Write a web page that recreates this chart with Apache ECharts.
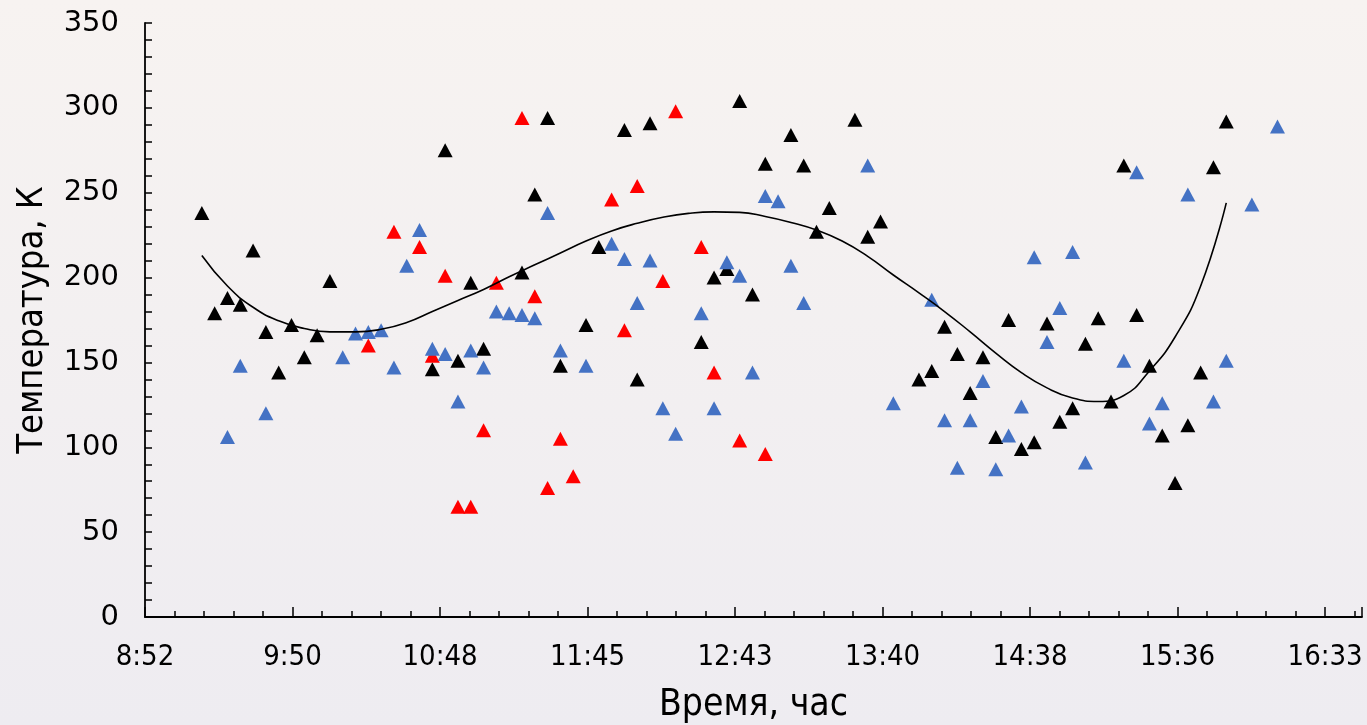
<!DOCTYPE html>
<html>
<head>
<meta charset="utf-8">
<script src="https://cdn.jsdelivr.net/npm/echarts@6/dist/echarts.min.js"></script>
<style>
  html, body { margin: 0; padding: 0; }
  body { background: linear-gradient(180deg, #f7f3f1 0%, #eeecf1 100%); }
  #chart { width: 1367px; height: 725px; }
</style>
</head>
<body>
<div id="chart"></div>
<script>
// time of day 'H:MM', temperature K
const blackPoints = [
  ['9:15', 238], ['9:20', 179], ['9:25', 188], ['9:30', 184], ['9:35', 216], ['9:40', 168],
  ['9:45', 144], ['9:50', 172], ['9:55', 153], ['10:00', 166], ['10:05', 198], ['10:45', 146],
  ['10:50', 275], ['10:55', 151], ['11:00', 197], ['11:05', 158], ['11:20', 203], ['11:25', 249],
  ['11:30', 294], ['11:35', 148], ['11:45', 172], ['11:50', 218], ['12:00', 287], ['12:05', 140],
  ['12:10', 291], ['12:30', 162], ['12:35', 200], ['12:40', 205], ['12:45', 304], ['12:50', 190],
  ['12:55', 267], ['13:05', 284], ['13:10', 266], ['13:15', 227], ['13:20', 241], ['13:30', 293],
  ['13:35', 224], ['13:40', 233], ['13:55', 140], ['14:00', 145], ['14:05', 171], ['14:10', 155],
  ['14:15', 132], ['14:20', 153], ['14:25', 106], ['14:30', 175], ['14:35', 99], ['14:40', 103],
  ['14:45', 173], ['14:50', 115], ['14:55', 123], ['15:00', 161], ['15:05', 176], ['15:10', 127],
  ['15:15', 266], ['15:20', 178], ['15:25', 148], ['15:30', 107], ['15:35', 79], ['15:40', 113],
  ['15:45', 144], ['15:50', 265], ['15:55', 292]
]

const bluePoints = [
  ['9:25', 106], ['9:30', 148], ['9:40', 120], ['10:10', 153], ['10:15', 167], ['10:20', 168],
  ['10:25', 169], ['10:30', 147], ['10:35', 207], ['10:40', 228], ['10:45', 158], ['10:50', 155],
  ['10:55', 127], ['11:00', 157], ['11:05', 147], ['11:10', 180], ['11:15', 179], ['11:20', 178],
  ['11:25', 176], ['11:30', 238], ['11:35', 157], ['11:45', 148], ['11:55', 220], ['12:00', 211],
  ['12:05', 185], ['12:10', 210], ['12:15', 123], ['12:20', 108], ['12:30', 179], ['12:35', 123],
  ['12:40', 209], ['12:45', 201], ['12:50', 144], ['12:55', 248], ['13:00', 245], ['13:05', 207],
  ['13:10', 185], ['13:35', 266], ['13:45', 126], ['14:00', 187], ['14:05', 116], ['14:10', 88],
  ['14:15', 116], ['14:20', 139], ['14:25', 87], ['14:30', 107], ['14:35', 124], ['14:40', 212],
  ['14:45', 162], ['14:50', 182], ['14:55', 215], ['15:00', 91], ['15:15', 151], ['15:20', 262],
  ['15:25', 114], ['15:30', 126], ['15:40', 249], ['15:50', 127], ['15:55', 151], ['16:05', 243],
  ['16:15', 289]
]

const redPoints = [
  ['10:20', 160], ['10:30', 227], ['10:40', 218], ['10:45', 154], ['10:50', 201], ['10:55', 65],
  ['11:00', 65], ['11:05', 110], ['11:10', 197], ['11:20', 294], ['11:25', 189], ['11:30', 76],
  ['11:35', 105], ['11:40', 83], ['11:55', 246], ['12:00', 169], ['12:05', 254], ['12:15', 198],
  ['12:20', 298], ['12:30', 218], ['12:35', 144], ['12:45', 104], ['12:55', 96]
]

// trend curve
const trendTimes = ['9:15', '9:25', '9:35', '9:45', '9:55', '10:05', '10:15', '10:25', '10:35', '10:45',
  '10:55', '11:05', '11:15', '11:25', '11:35', '11:45', '11:55', '12:05', '12:15', '12:25', '12:35',
  '12:45', '12:55', '13:05', '13:15', '13:25', '13:35', '13:45', '13:55', '14:05', '14:15', '14:25',
  '14:35', '14:45', '14:55', '15:05', '15:15', '15:25', '15:35', '15:45', '15:55']
const trendTemps = [213, 195, 182.5, 174.5, 170, 168, 168, 169.5, 173.5, 180,
  186.5, 193, 200.5, 207.5, 214.5, 221.5, 227.5, 232, 235.5, 237.8, 238.7,
  238.4, 236, 232.5, 228, 221.5, 212.5, 201.5, 191, 180, 168, 155.5,
  144, 135, 129, 127, 130.5, 145, 165, 195, 244]

const yTicks = { min: 0, max: 350, step: 50 }

// x axis: Excel-style day fractions 0.37 .. 0.70 with step 0.04, kept as minutes from 8:52:48
const AXIS_START = 0.37 * 1440
const AXIS_END = 0.70 * 1440
const AXIS_STEP = 0.04 * 1440

function toX(t) {
  const [h, m] = t.split(':').map(Number)
  return h * 60 + m - AXIS_START
}

function fmtTime(v) {
  const total = Math.floor(AXIS_START + v + 1e-6)
  return Math.floor(total / 60) + ':' + String(total % 60).padStart(2, '0')
}

const toData = (pts) => pts.map(([t, v]) => [toX(t), v])

const chart = echarts.init(document.getElementById('chart'))

const axisColor = '#000000'

chart.setOption({
  animation: false,
  backgroundColor: 'transparent',
  grid: { left: 145, right: 5, top: 23, bottom: 108, outerBoundsMode: 'none' },
  xAxis: {
    type: 'value',
    min: 0,
    max: AXIS_END - AXIS_START,
    interval: AXIS_STEP,
    axisLine: { lineStyle: { color: axisColor, width: 1.8 } },
    axisTick: { inside: true, length: 10, lineStyle: { color: axisColor, width: 1.5 } },
    minorTick: { show: true, splitNumber: 5, length: 6, lineStyle: { color: axisColor, width: 1.5 } },
    splitLine: { show: false },
    axisLabel: {
      margin: 26,
      color: '#000',
      fontFamily: 'DejaVu Sans Condensed',
      fontSize: 29,
      showMaxLabel: false,
      formatter: fmtTime
    },
    name: 'Время, час',
    nameLocation: 'middle',
    nameGap: 70,
    nameTextStyle: { color: '#000', fontFamily: 'DejaVu Sans Condensed', fontSize: 37 }
  },
  yAxis: {
    type: 'value',
    min: yTicks.min,
    max: yTicks.max,
    interval: yTicks.step,
    axisLine: { show: true, lineStyle: { color: axisColor, width: 1.8 } },
    axisTick: { show: true, inside: true, length: 7, lineStyle: { color: axisColor, width: 1.5 } },
    minorTick: { show: true, splitNumber: 5, length: 7, lineStyle: { color: axisColor, width: 1.5 } },
    splitLine: { show: false },
    axisLabel: {
      margin: 26,
      color: '#000',
      fontFamily: 'DejaVu Sans',
      fontSize: 29
    },
    name: 'Температура, К',
    nameLocation: 'middle',
    nameGap: 94,
    nameTextStyle: { color: '#000', fontFamily: 'DejaVu Sans Condensed', fontSize: 36 }
  },
  series: [
    {
      name: 'black',
      type: 'scatter',
      symbol: 'triangle',
      symbolSize: [15, 14],
      itemStyle: { color: '#000000', opacity: 1 },
      data: toData(blackPoints)
    },
    {
      name: 'red',
      type: 'scatter',
      symbol: 'triangle',
      symbolSize: [15, 14],
      itemStyle: { color: '#ff0000', opacity: 1 },
      data: toData(redPoints)
    },
    {
      name: 'blue',
      type: 'scatter',
      symbol: 'triangle',
      symbolSize: [15, 14],
      itemStyle: { color: '#4472c4', opacity: 1 },
      data: toData(bluePoints)
    },
    {
      name: 'trend',
      type: 'line',
      smooth: 0.5,
      showSymbol: false,
      lineStyle: { color: '#000', width: 1.6 },
      data: trendTimes.map((t, i) => [toX(t), trendTemps[i]]),
      z: 5
    }
  ]
})
</script>
</body>
</html>
